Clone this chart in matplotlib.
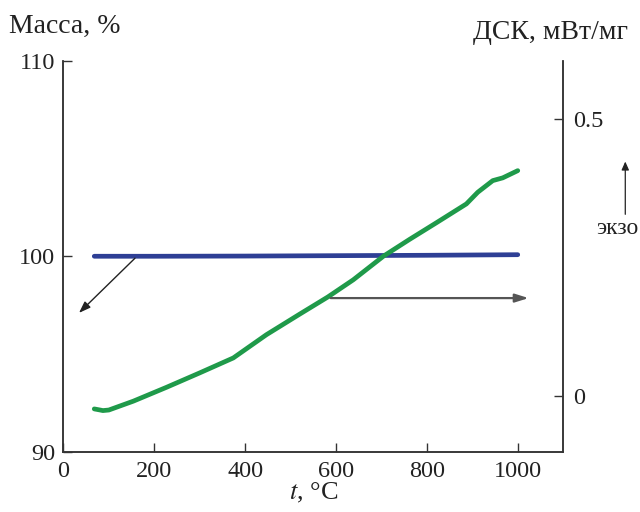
import matplotlib
matplotlib.use("Agg")
import matplotlib.pyplot as plt

plt.rcParams["font.family"] = ["Liberation Serif", "DejaVu Serif"]
plt.rcParams["mathtext.fontset"] = "stix"

# mass (TG), %
t_mass = [68, 200, 400, 600, 800, 1000]
mass = [100.0, 100.0, 100.01, 100.03, 100.05, 100.08]

# DSC, mW/mg
t_dsc = [68, 81, 87, 100, 154, 227, 300, 374, 447, 520, 582, 638, 705, 762, 821,
         887, 912, 945, 967, 1000]
dsc = [-0.023, -0.025, -0.026, -0.025, -0.009, 0.016, 0.042, 0.069, 0.111, 0.148, 0.179,
       0.210, 0.253, 0.283, 0.313, 0.347, 0.368, 0.389, 0.394, 0.407]

fig = plt.figure(figsize=(6.4, 5.12), dpi=100)
ax = fig.add_axes([0.099, 0.118, 0.781, 0.763])
ax2 = ax.twinx()

ax.plot(t_mass, mass, color="#2e3f95", lw=3.4, solid_capstyle="round")
ax2.plot(t_dsc, dsc, color="#1f9a4a", lw=3.4, solid_capstyle="round")

ax.set_xlim(0, 1100)
ax.set_ylim(90, 110)
ax2.set_ylim(-0.1, 0.605)
ax.set_xticks([0, 200, 400, 600, 800, 1000])
ax.set_yticks([90, 100, 110])
ax2.set_yticks([0, 0.5])
ax2.set_yticklabels(["0", "0.5"])

for a in (ax, ax2):
    a.spines["top"].set_visible(False)
    for s in a.spines.values():
        s.set_color("#333333")
        s.set_linewidth(1.1)
    a.tick_params(direction="in", length=6.5, width=1.0, color="#333333",
                  labelsize=17.5, labelcolor="#222222")
ax.tick_params(axis="x", pad=7)
ax.tick_params(axis="y", pad=6)
ax2.tick_params(axis="y", pad=7)

ax.set_xlabel("$t$, °C", fontsize=19, color="#222222", labelpad=-1)
fig.text(0.014, 0.948, "Масса, %", fontsize=20, color="#222222", va="center")
fig.text(0.982, 0.937, "ДСК, мВт/мг", fontsize=20, color="#222222", va="center", ha="right")
fig.text(0.965, 0.553, "экзо", fontsize=17, color="#222222", va="center", ha="center")

# exo arrow
fig.patches.append(matplotlib.patches.FancyArrowPatch(
    (0.977, 0.576), (0.977, 0.69), transform=fig.transFigure,
    arrowstyle="-|>,head_length=5,head_width=2.2", color="#222222", lw=0.9))

# series pointers
ax.annotate("", xy=(30, 97.0), xytext=(162, 100.0),
            arrowprops=dict(arrowstyle="-|>,head_length=0.7,head_width=0.25",
                            color="#222222", lw=1.0))
ax2.annotate("", xy=(1030, 0.177), xytext=(582, 0.177),
             arrowprops=dict(arrowstyle="-|>,head_length=0.8,head_width=0.25",
                             color="#555555", lw=1.6))

fig.savefig("out.png", dpi=100)
